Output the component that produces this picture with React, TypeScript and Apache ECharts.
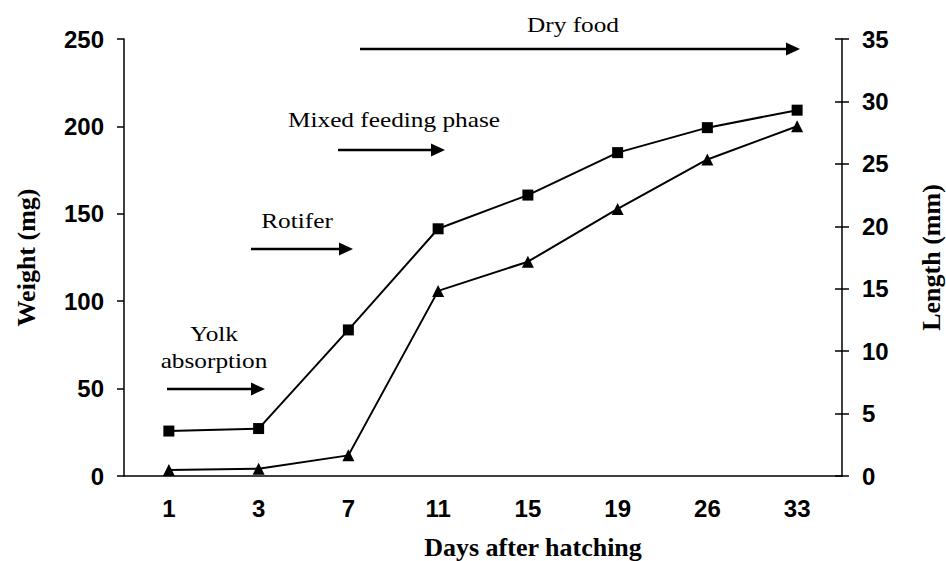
import React, { useEffect, useRef } from "react";
import * as echarts from "echarts";

const days = ["1", "3", "7", "11", "15", "19", "26", "33"];
const weightMg = [3.4, 4.2, 11.8, 105.9, 122.6, 152.8, 181.1, 200.1];
const lengthMm = [3.6, 3.8, 11.7, 19.8, 22.5, 25.9, 27.9, 29.3];

const annotations = [
  { lines: ["Yolk", "absorption"], tx: 214, ty: [334, 361], x1: 167, x2: 265, ay: 389 },
  { lines: ["Rotifer"], tx: 297, ty: [221], x1: 251, x2: 353, ay: 249 },
  { lines: ["Mixed feeding phase"], tx: 394, ty: [120], x1: 338, x2: 445, ay: 150 },
  { lines: ["Dry food"], tx: 573, ty: [25], x1: 360, x2: 800, ay: 49 },
];

const SERIF = "'Liberation Serif', 'Times New Roman', serif";
const SANS = "'Liberation Sans', Arial, sans-serif";

export default function App() {
  const ref = useRef<HTMLDivElement>(null);
  useEffect(() => {
    if (!ref.current) return;
    const chart = echarts.init(ref.current, null, { renderer: "svg" });
    const graphics: any[] = [];
    annotations.forEach((a) => {
      a.lines.forEach((t, i) => {
        graphics.push({
          type: "text",
          x: a.tx,
          y: a.ty[i],
          scaleX: 1.15,
          style: {
            text: t,
            font: `22px ${SERIF}`,
            fill: "#000",
            align: "center",
            verticalAlign: "middle",
          },
        });
      });
      graphics.push({
        type: "line",
        shape: { x1: a.x1, y1: a.ay, x2: a.x2 - 10, y2: a.ay },
        style: { stroke: "#000", lineWidth: 2.5 },
      });
      graphics.push({
        type: "polygon",
        shape: {
          points: [
            [a.x2 - 14, a.ay - 6.5],
            [a.x2, a.ay],
            [a.x2 - 14, a.ay + 6.5],
          ],
        },
        style: { fill: "#000" },
      });
    });

    const tickLabel = { fontFamily: SANS, fontWeight: "bold", fontSize: 24, color: "#000" };
    const axisName = { fontFamily: SERIF, fontWeight: "bold", fontSize: 26, color: "#000" };

    chart.setOption({
      animation: false,
      grid: { left: 124, right: 104, top: 39, bottom: 85, outerBoundsMode: "none", containLabel: false },
      xAxis: {
        type: "category",
        data: days,
        boundaryGap: true,
        name: "Days after hatching",
        nameLocation: "middle",
        nameGap: 58,
        nameTextStyle: { ...axisName, padding: [0, 0, 0, 100] },
        axisLine: { lineStyle: { color: "#000", width: 1.5 } },
        axisTick: { length: 7, lineStyle: { color: "#000", width: 1.5 } },
        axisLabel: { ...tickLabel, margin: 20 },
        splitLine: { show: false },
      },
      yAxis: [
        {
          type: "value",
          min: 0,
          max: 250,
          interval: 50,
          position: "left",
          name: "Weight (mg)",
          nameLocation: "middle",
          nameRotate: 90,
          nameGap: 85,
          nameTextStyle: axisName,
          axisLine: { show: true, lineStyle: { color: "#000", width: 1.5 } },
          axisTick: { show: true, length: 7, lineStyle: { color: "#000", width: 1.5 } },
          axisLabel: { ...tickLabel, margin: 20 },
          splitLine: { show: false },
        },
        {
          type: "value",
          min: 0,
          max: 35,
          interval: 5,
          position: "right",
          name: "Length (mm)",
          nameLocation: "middle",
          nameRotate: 90,
          nameGap: 76,
          nameTextStyle: axisName,
          axisLine: { show: true, lineStyle: { color: "#000", width: 1.5 } },
          axisTick: { show: true, length: 7, lineStyle: { color: "#000", width: 1.5 } },
          axisLabel: { ...tickLabel, margin: 20 },
          splitLine: { show: false },
        },
        {
          type: "value",
          min: 0,
          max: 35,
          interval: 5,
          position: "right",
          axisLine: { show: false },
          axisTick: { show: true, inside: true, length: 7, lineStyle: { color: "#000", width: 1.5 } },
          axisLabel: { show: false },
          splitLine: { show: false },
        },
      ],
      series: [
        {
          name: "Length",
          type: "line",
          yAxisIndex: 1,
          data: lengthMm,
          symbol: "rect",
          symbolSize: 11,
          lineStyle: { color: "#000", width: 2 },
          itemStyle: { color: "#000" },
        },
        {
          name: "Weight",
          type: "line",
          yAxisIndex: 0,
          data: weightMg,
          symbol: "triangle",
          symbolSize: 12,
          lineStyle: { color: "#000", width: 2 },
          itemStyle: { color: "#000" },
        },
      ],
      graphic: graphics,
    });
    return () => chart.dispose();
  }, []);
  return (
    <div
      ref={ref}
      style={{ position: "fixed", left: 0, top: 0, width: 946, height: 561, background: "#fff" }}
    />
  );
}
